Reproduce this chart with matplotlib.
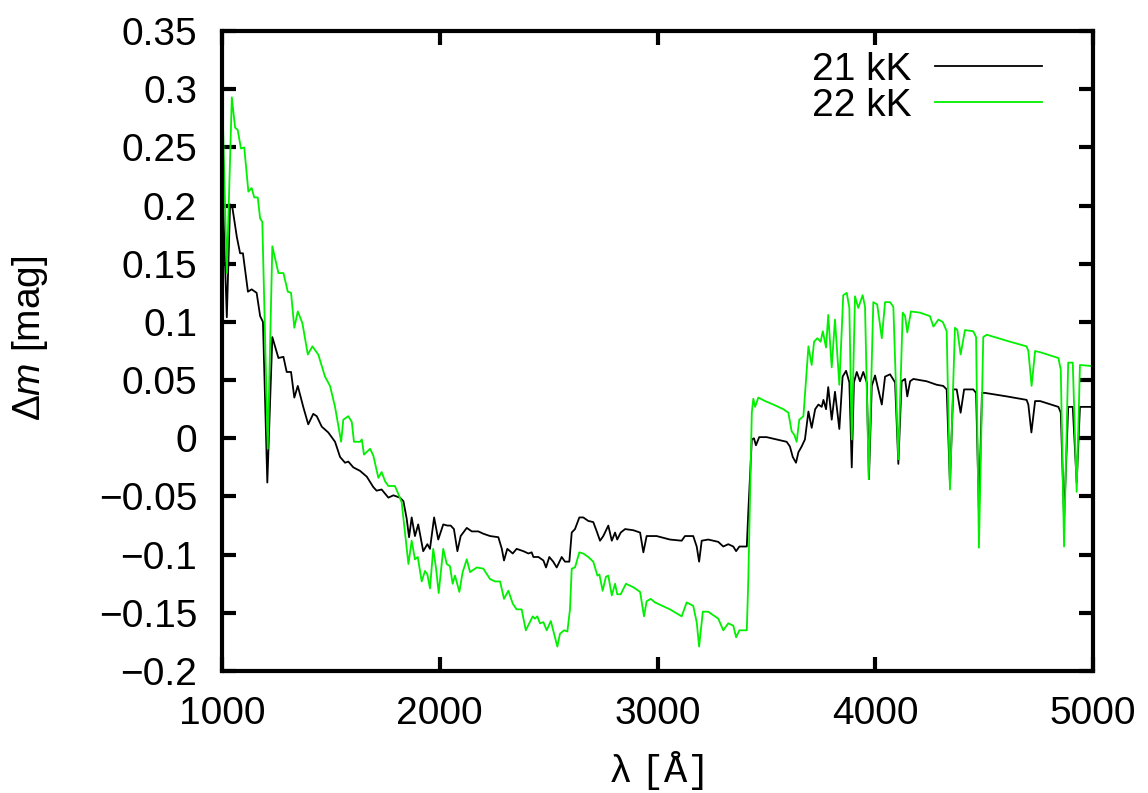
import matplotlib
matplotlib.use('Agg')
import matplotlib.pyplot as plt
from matplotlib.ticker import FuncFormatter

plt.rcParams['font.family'] = ['Liberation Sans', 'DejaVu Sans']
plt.rcParams['mathtext.fontset'] = 'custom'
plt.rcParams['mathtext.rm'] = 'Liberation Sans'
plt.rcParams['mathtext.it'] = 'Liberation Sans:italic'
plt.rcParams['mathtext.tt'] = 'Liberation Mono'

# 21 kK model: wavelength [A] and magnitude difference
wl_21 = [1005, 1022, 1037, 1047, 1068, 1083, 1096, 1119, 1136, 1159,
         1175, 1188, 1208, 1231, 1259, 1282, 1297, 1317, 1332, 1348,
         1373, 1396, 1419, 1435, 1458, 1488, 1519, 1542, 1565, 1580,
         1603, 1634, 1665, 1695, 1710, 1733, 1764, 1787, 1817, 1833,
         1848, 1859, 1871, 1886, 1901, 1924, 1943, 1955, 1974, 1993,
         2016, 2035, 2050, 2065, 2081, 2096, 2124, 2147, 2177, 2200,
         2231, 2269, 2285, 2295, 2310, 2323, 2335, 2353, 2384, 2407,
         2422, 2430, 2453, 2476, 2488, 2503, 2521, 2537, 2560, 2575,
         2595, 2606, 2621, 2641, 2659, 2682, 2705, 2721, 2736, 2751,
         2774, 2790, 2805, 2815, 2831, 2851, 2889, 2920, 2935, 2950,
         2996, 3057, 3111, 3126, 3164, 3180, 3191, 3203, 3233, 3279,
         3302, 3325, 3348, 3361, 3376, 3410, 3417, 3433, 3443, 3452,
         3467, 3501, 3593, 3608, 3621, 3636, 3647, 3662, 3677, 3693,
         3708, 3724, 3739, 3754, 3762, 3774, 3784, 3800, 3815, 3835,
         3850, 3866, 3881, 3892, 3902, 3915, 3930, 3945, 3961, 3971,
         3984, 3999, 4030, 4045, 4068, 4091, 4106, 4121, 4137, 4147,
         4160, 4175, 4236, 4282, 4312, 4328, 4343, 4358, 4374, 4392,
         4408, 4450, 4463, 4476, 4490, 4504, 4604, 4695, 4703, 4717,
         4734, 4757, 4841, 4852, 4867, 4886, 4907, 4925, 4940, 5000]
dm_21 = [0.202, 0.104, 0.201, 0.199, 0.173, 0.159, 0.159, 0.126, 0.128, 0.125,
         0.105, 0.100, -0.038, 0.087, 0.069, 0.070, 0.057, 0.057, 0.035, 0.045,
         0.027, 0.012, 0.021, 0.019, 0.010, 0.005, -0.003, -0.016, -0.021, -0.020,
         -0.025, -0.028, -0.033, -0.042, -0.045, -0.044, -0.051, -0.049, -0.051, -0.054,
         -0.069, -0.085, -0.068, -0.084, -0.074, -0.097, -0.091, -0.095, -0.068, -0.087,
         -0.074, -0.075, -0.075, -0.078, -0.097, -0.084, -0.077, -0.080, -0.080, -0.082,
         -0.084, -0.085, -0.095, -0.105, -0.095, -0.097, -0.099, -0.095, -0.097, -0.099,
         -0.098, -0.102, -0.102, -0.105, -0.111, -0.102, -0.106, -0.111, -0.102, -0.106,
         -0.106, -0.081, -0.078, -0.068, -0.068, -0.071, -0.072, -0.080, -0.088, -0.084,
         -0.075, -0.088, -0.081, -0.087, -0.081, -0.078, -0.079, -0.081, -0.098, -0.084,
         -0.084, -0.087, -0.088, -0.084, -0.084, -0.093, -0.106, -0.088, -0.087, -0.089,
         -0.093, -0.091, -0.093, -0.097, -0.093, -0.093, -0.063, -0.001, 0.000, -0.006,
         0.001, 0.001, -0.003, -0.007, -0.016, -0.021, -0.012, -0.007, -0.001, 0.023,
         0.009, 0.025, 0.029, 0.027, 0.033, 0.025, 0.044, 0.016, 0.040, 0.008,
         0.053, 0.058, 0.048, -0.025, 0.048, 0.057, 0.049, 0.057, 0.048, -0.035,
         0.045, 0.054, 0.029, 0.053, 0.055, 0.048, -0.022, 0.049, 0.051, 0.036,
         0.049, 0.051, 0.049, 0.046, 0.045, 0.042, -0.039, 0.042, 0.042, 0.022,
         0.042, 0.042, 0.039, -0.063, 0.039, 0.039, 0.036, 0.033, 0.029, 0.005,
         0.032, 0.032, 0.027, 0.022, -0.069, 0.027, 0.027, -0.038, 0.027, 0.027]

# 22 kK model
wl_22 = [1000, 1022, 1045, 1060, 1072, 1087, 1102, 1121, 1136, 1148,
         1164, 1175, 1185, 1210, 1231, 1259, 1282, 1302, 1317, 1332,
         1348, 1369, 1394, 1415, 1442, 1473, 1496, 1519, 1547, 1557,
         1580, 1596, 1606, 1634, 1642, 1652, 1680, 1695, 1718, 1733,
         1749, 1764, 1794, 1810, 1825, 1840, 1856, 1871, 1886, 1899,
         1917, 1932, 1943, 1955, 1970, 1983, 1995, 2016, 2032, 2047,
         2059, 2070, 2090, 2105, 2124, 2139, 2170, 2200, 2231, 2254,
         2277, 2295, 2315, 2335, 2353, 2376, 2395, 2414, 2427, 2437,
         2448, 2460, 2476, 2491, 2510, 2525, 2540, 2552, 2571, 2586,
         2598, 2606, 2621, 2641, 2659, 2682, 2705, 2724, 2733, 2748,
         2763, 2774, 2790, 2805, 2815, 2831, 2855, 2889, 2920, 2938,
         2950, 2969, 2988, 3057, 3111, 3134, 3164, 3180, 3191, 3208,
         3233, 3279, 3302, 3325, 3348, 3361, 3376, 3410, 3417, 3433,
         3440, 3448, 3463, 3494, 3532, 3578, 3601, 3616, 3628, 3639,
         3651, 3670, 3682, 3693, 3708, 3719, 3734, 3749, 3759, 3774,
         3784, 3800, 3815, 3835, 3853, 3869, 3881, 3892, 3907, 3922,
         3942, 3953, 3970, 3991, 4009, 4030, 4045, 4068, 4083, 4106,
         4126, 4137, 4147, 4164, 4205, 4251, 4267, 4290, 4310, 4328,
         4343, 4366, 4377, 4392, 4412, 4450, 4463, 4476, 4496, 4512,
         4619, 4695, 4703, 4718, 4734, 4757, 4841, 4852, 4867, 4886,
         4907, 4925, 4940, 5000]
dm_22 = [0.302, 0.142, 0.293, 0.267, 0.265, 0.249, 0.250, 0.212, 0.215, 0.207,
         0.207, 0.189, 0.186, -0.009, 0.165, 0.142, 0.142, 0.126, 0.125, 0.095,
         0.109, 0.099, 0.072, 0.079, 0.072, 0.053, 0.045, 0.027, -0.003, 0.016,
         0.019, 0.014, -0.003, -0.003, -0.001, -0.014, -0.009, -0.015, -0.034, -0.029,
         -0.037, -0.041, -0.041, -0.048, -0.055, -0.081, -0.108, -0.088, -0.104, -0.102,
         -0.123, -0.114, -0.117, -0.129, -0.095, -0.112, -0.133, -0.095, -0.108, -0.110,
         -0.125, -0.118, -0.132, -0.115, -0.104, -0.115, -0.111, -0.112, -0.121, -0.123,
         -0.123, -0.138, -0.131, -0.142, -0.147, -0.147, -0.165, -0.158, -0.153, -0.155,
         -0.153, -0.159, -0.158, -0.165, -0.157, -0.168, -0.179, -0.168, -0.165, -0.166,
         -0.147, -0.112, -0.111, -0.098, -0.099, -0.102, -0.106, -0.118, -0.117, -0.131,
         -0.119, -0.118, -0.135, -0.125, -0.134, -0.134, -0.125, -0.128, -0.132, -0.153,
         -0.140, -0.138, -0.141, -0.147, -0.153, -0.141, -0.144, -0.158, -0.179, -0.149,
         -0.149, -0.155, -0.165, -0.159, -0.161, -0.171, -0.165, -0.165, -0.121, 0.022,
         0.034, 0.027, 0.035, 0.032, 0.029, 0.025, 0.022, 0.006, 0.003, -0.003,
         0.016, 0.019, 0.051, 0.079, 0.063, 0.083, 0.086, 0.083, 0.092, 0.078,
         0.106, 0.061, 0.102, 0.046, 0.123, 0.125, 0.112, -0.001, 0.122, 0.112,
         0.123, 0.113, -0.035, 0.117, 0.115, 0.086, 0.117, 0.117, 0.113, -0.018,
         0.108, 0.105, 0.091, 0.109, 0.108, 0.105, 0.096, 0.102, 0.100, 0.092,
         -0.044, 0.095, 0.093, 0.072, 0.093, 0.092, 0.087, -0.094, 0.087, 0.089,
         0.083, 0.079, 0.075, 0.045, 0.075, 0.074, 0.069, 0.059, -0.093, 0.065,
         0.065, -0.046, 0.063, 0.062]

labels = ['21 kK', '22 kK']
colors = ['black', '#00f000']

fig = plt.figure(figsize=(11.48, 7.93), dpi=100)
ax = fig.add_axes([0.1934, 0.1538, 0.7587, 0.8071])

ax.plot(wl_21, dm_21, color=colors[0], lw=1.3, label=labels[0])
ax.plot(wl_22, dm_22, color=colors[1], lw=1.3, label=labels[1])

ax.set_xlim(1000, 5000)
ax.set_ylim(-0.2, 0.35)
ax.set_xticks([1000, 2000, 3000, 4000, 5000])
ax.set_yticks([-0.2, -0.15, -0.1, -0.05, 0, 0.05, 0.1, 0.15, 0.2, 0.25, 0.3, 0.35])
ax.yaxis.set_major_formatter(
    FuncFormatter(lambda v, p: ('%g' % round(v, 2)).replace('-', '\u2212')))

for s in ax.spines.values():
    s.set_linewidth(3)
ax.tick_params(direction='in', length=10, width=3, labelsize=28, pad=18,
               top=True, right=True)

ax.set_xlabel(r'λ $\mathtt{[\AA]}$', fontsize=28, labelpad=12)
ax.set_ylabel(r'$\Delta\mathit{m}$ [mag]', fontsize=28)
ax.yaxis.set_label_coords(-0.197, 0.52)

ax.legend(loc='upper right', bbox_to_anchor=(0.986, 1.028), frameon=False,
          markerfirst=False, fontsize=28, handlelength=2.75, handletextpad=0.6,
          labelspacing=0.0, borderaxespad=0.6)

fig.savefig('out.png', dpi=100)
